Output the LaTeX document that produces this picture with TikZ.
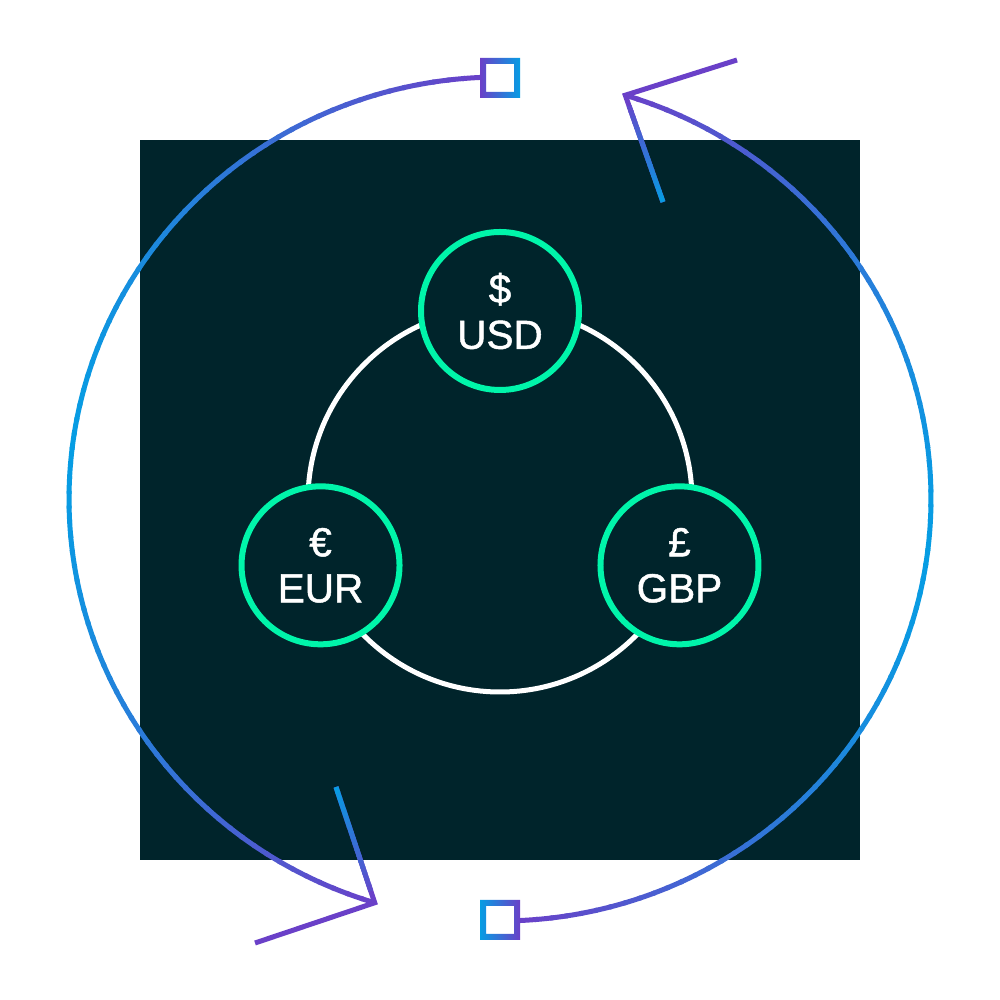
\documentclass[tikz,border=0pt]{standalone}
\usepackage{fontspec}
\setmainfont{Liberation Sans}
\newfontfamily\labelfont{Liberation Sans}[FakeBold=1.2]
\usetikzlibrary{calc}
\definecolor{PU}{RGB}{106,64,200}
\definecolor{BL}{RGB}{6,157,227}
\definecolor{DK}{HTML}{00242B}
\definecolor{GR}{HTML}{00F5AA}
\begin{document}
\begin{tikzpicture}[x=1pt,y=1pt,
  ring/.style={line width=5pt, draw=white},
  cur/.style={circle, draw=GR, line width=6pt, fill=DK, minimum size=158pt, inner sep=0pt,
              text=white, align=center, font=\labelfont\fontsize{40.5}{46}\selectfont},
  seg/.style={line width=5pt, line cap=butt},
  arrowline/.style={line width=5pt, line cap=butt, line join=miter, draw=PU}]
\fill[white] (0,0) rectangle (1000,1000);
\useasboundingbox (0,0) rectangle (1000,1000);
\fill[DK] (140,140) rectangle (860,860);
\coordinate (O) at (500,501);
\coordinate (C) at (500,500);
% left arc (from top square to bottom-left arrow)
\foreach \i in {0,...,79}{
  \pgfmathsetmacro\ta{92.66+\i*2.0055}
  \pgfmathsetmacro\tb{min(\ta+2.4,253.1)}
  \pgfmathsetmacro\p{min(100,100*pow(max(abs(\ta+1.0-172.88)/80.22,0.001),1.5))}
  \draw[seg, draw=PU!\p!BL] (O) ++(\ta:431 and 422) arc[start angle=\ta, end angle=\tb, x radius=431, y radius=422];
}
% right arc (from bottom square to top-right arrow)
\foreach \i in {0,...,79}{
  \pgfmathsetmacro\ta{272.66+\i*2.0055}
  \pgfmathsetmacro\tb{min(\ta+2.4,433.1)}
  \pgfmathsetmacro\p{min(100,100*pow(max(abs(\ta+1.0-352.88)/80.22,0.001),1.5))}
  \draw[seg, draw=PU!\p!BL] (O) ++(\ta:431 and 422) arc[start angle=\ta, end angle=\tb, x radius=431, y radius=422];
}
% arrow heads
\path (O) ++(253.1:431 and 422) coordinate (TL);
\path (O) ++(433.1:431 and 422) coordinate (TR);
\coordinate (TLa) at (255,57);
\coordinate (TLb) at (336,213);
\coordinate (TRa) at (737,940);
\coordinate (TRb) at (663,798);
\draw[arrowline] (TLa) -- (TL) -- (TLb);
\draw[arrowline] (TRa) -- (TR) -- (TRb);
\foreach \i in {2,...,19}{
  \pgfmathsetmacro\sa{\i/20}
  \pgfmathsetmacro\sb{min(1,\i/20+0.06)}
  \pgfmathsetmacro\p{100*(1-(\i+0.5)/20)}
  \draw[seg, draw=PU!\p!BL] ($(TL)!\sa!(TLb)$) -- ($(TL)!\sb!(TLb)$);
  \draw[seg, draw=PU!\p!BL] ($(TR)!\sa!(TRb)$) -- ($(TR)!\sb!(TRb)$);
}
% squares
\coordinate (sqT) at (500,922);
\coordinate (sqB) at (500,80);
\shade[left color=PU, right color=BL, even odd rule] (480,902) rectangle (520,942) (486,908) rectangle (514,936);
\shade[left color=BL, right color=PU, even odd rule] (480,60) rectangle (520,100) (486,66) rectangle (514,94);
% inner ring and currencies
\draw[ring] (C) circle[radius=192];
\node[cur] (usd) at ($(C)+(90:189)$) {\$\\USD};
\node[cur] (eur) at ($(C)+(200:191)$) {€\\EUR};
\node[cur] (gbp) at ($(C)+(-20:191)$) {£\\GBP};
\end{tikzpicture}
\end{document}
